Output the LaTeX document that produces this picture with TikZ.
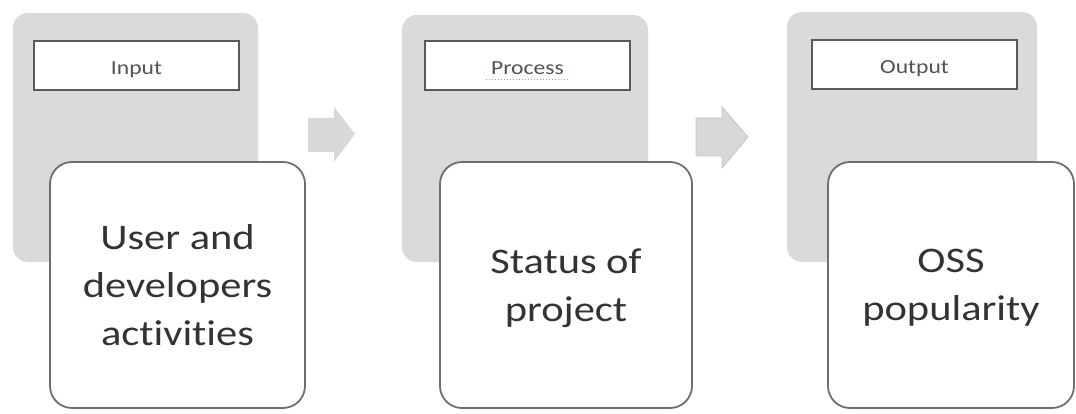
\documentclass[tikz,border=0pt]{standalone}
\usepackage{fontspec}
\setmainfont{Carlito}
\newfontfamily\widef[FakeStretch=1.18,Ligatures=NoCommon]{Carlito}
\definecolor{panelgrey}{HTML}{D9DBDB}
\definecolor{arrowgrey}{HTML}{D8D8D8}
\definecolor{arrowedge}{HTML}{C4C4C4}
\definecolor{hdredge}{HTML}{595959}
\definecolor{boxedge}{HTML}{6E6E6E}
\definecolor{txt}{HTML}{333333}
\definecolor{spell}{HTML}{E08A9A}
\tikzset{
  panel/.style={fill=panelgrey, draw=none, rounded corners=15pt, inner sep=0pt, outer sep=0pt, anchor=north west},
  header/.style={fill=white, draw=hdredge, line width=1.6pt, inner sep=0pt, outer sep=0pt, anchor=north west,
    text height=18pt, text depth=0pt, font=\widef\fontsize{20}{24}\selectfont, text=txt!85},
  bigbox/.style={fill=white, draw=boxedge, line width=1.8pt, rounded corners=22pt, inner sep=0pt, outer sep=0pt, anchor=north west,
    text depth=0pt, align=center, font=\widef\fontsize{36}{48}\selectfont, text=txt},
  blockarrow/.style={fill=arrowgrey, draw=none},
}
\begin{document}
\begin{tikzpicture}[x=1pt,y=-1pt]
\useasboundingbox (0,0) rectangle (1076,414);
% panel 1
\node[panel, minimum width=245pt, minimum height=249pt] (p1) at (13,13) {};
\node[header, minimum width=205pt, minimum height=49pt] (h1) at (34,41) {Input};
\node[bigbox, minimum width=255pt, minimum height=246pt] (b1) at (50,162) {User and\\developers\\activities};
% panel 2
\node[panel, minimum width=246pt, minimum height=247pt] (p2) at (402,15) {};
\node[header, minimum width=205pt, minimum height=49pt] (h2) at (425,41) {Process};
\draw[spell, line width=1pt, dotted] ([xshift=-42pt,yshift=-14pt]h2.center) -- ([xshift=42pt,yshift=-14pt]h2.center);
\node[bigbox, minimum width=252pt, minimum height=246pt] (b2) at (440,162) {Status of\\project};
% panel 3
\node[panel, minimum width=250pt, minimum height=250pt] (p3) at (787,12) {};
\node[header, minimum width=205pt, minimum height=49pt] (h3) at (812,40) {Output};
\node[bigbox, minimum width=246pt, minimum height=246pt] (b3) at (828,162) {OSS\\popularity};
% block arrows
\fill[blockarrow] (308,118) -- (334,118) -- (334,107) -- (355,134) -- (334,162) -- (334,152) -- (308,152) -- cycle;
\filldraw[blockarrow, draw=arrowedge, line width=0.8pt] (696,118) -- (722,118) -- (722,107) -- (748,137) -- (722,168) -- (722,156) -- (696,156) -- cycle;
\end{tikzpicture}
\end{document}
